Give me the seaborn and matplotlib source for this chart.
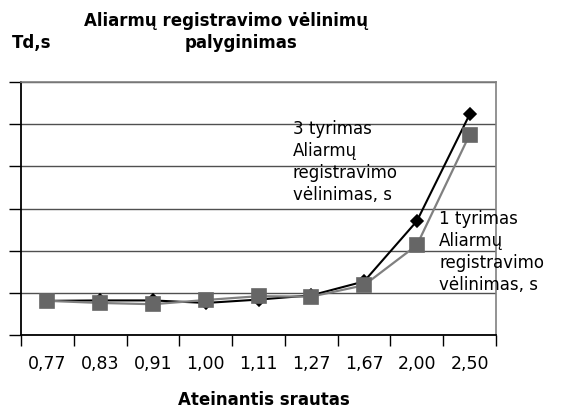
import numpy as np
import pandas as pd
import matplotlib
matplotlib.use("Agg")
import matplotlib.pyplot as plt
import seaborn as sns

# ------------------------------------------------------------------
# DATA
# ------------------------------------------------------------------
flow = ["0,77", "0,83", "0,91", "1,00", "1,11", "1,27", "1,67", "2,00", "2,50"]
delay_3 = [8.1, 8.2, 8.2, 7.6, 8.4, 9.4, 12.7, 27.0, 52.3]   # 3 tyrimas
delay_1 = [8.1, 7.6, 7.3, 8.3, 9.2, 9.1, 11.8, 21.3, 47.5]   # 1 tyrimas
y_ticks = [0, 10, 20, 30, 40, 50, 60]

label_3 = "3 tyrimas\nAliarmų\nregistravimo\nvėlinimas, s"
label_1 = "1 tyrimas\nAliarmų\nregistravimo\nvėlinimas, s"

df3 = pd.DataFrame({"srautas": flow, "Td": delay_3})
df1 = pd.DataFrame({"srautas": flow, "Td": delay_1})

# ------------------------------------------------------------------
# PLOT
# ------------------------------------------------------------------
sns.set_style("white")
plt.rcParams["font.family"] = ["DejaVu Sans"]
plt.rcParams["text.color"] = "black"
plt.rcParams["xtick.color"] = "black"
plt.rcParams["ytick.color"] = "black"

fig = plt.figure(figsize=(5.75, 4.10), dpi=100)
ax = fig.add_axes([21 / 575, 1 - 336 / 410, 475 / 575, 253 / 410])

sns.pointplot(data=df3, x="srautas", y="Td", order=flow, ax=ax,
              color="black", marker="D", markersize=6, linewidth=1.5,
              zorder=3)
sns.pointplot(data=df1, x="srautas", y="Td", order=flow, ax=ax,
              color="#808080", marker="s", markersize=9.5, linewidth=1.6,
              markerfacecolor="#666666", markeredgecolor="#666666",
              zorder=4)

ax.set_xlim(-0.5, len(flow) - 0.5)
ax.set_ylim(y_ticks[0], y_ticks[-1])
ax.set_yticks(y_ticks)
# the value labels of the y axis fall outside the cropped chart
ax.set_yticklabels([])
ax.yaxis.grid(True, color="#505050", lw=1)
ax.xaxis.grid(False)
ax.set_axisbelow(True)

# category boundary ticks on the x axis, labels in the middle
ax.set_xticks(np.arange(-0.5, len(flow)), minor=True)
ax.tick_params(axis="x", which="minor", length=8, width=1, color="black",
               direction="out", bottom=True)
ax.tick_params(axis="x", which="major", length=0, pad=14, labelsize=12.5,
               labelcolor="black")
ax.tick_params(axis="y", length=9, width=1, color="black", direction="out",
               left=True)

for side in ["left", "bottom"]:
    ax.spines[side].set_color("black")
    ax.spines[side].set_linewidth(1.3)
for side in ["top", "right"]:
    ax.spines[side].set_color("#808080")
    ax.spines[side].set_linewidth(1.2)

ax.set_xlabel("")
ax.set_ylabel("")

# series labels
fig.text(293 / 575, 1 - 120 / 410, label_3, fontsize=12,
         va="top", ha="left", linespacing=1.28)
fig.text(439 / 575, 1 - 210 / 410, label_1, fontsize=12,
         va="top", ha="left", linespacing=1.28)

# titles
fig.text(226 / 575, 1 - 26 / 410, "Aliarmų registravimo vėlinimų",
         fontsize=12, fontweight="bold", va="baseline", ha="center")
fig.text(241 / 575, 1 - 48 / 410, "palyginimas",
         fontsize=12, fontweight="bold", va="baseline", ha="center")
fig.text(12 / 575, 1 - 48 / 410, "Td,s",
         fontsize=12, fontweight="bold", va="baseline", ha="left")
fig.text(264 / 575, 1 - 405 / 410, "Ateinantis srautas",
         fontsize=12, fontweight="bold", va="baseline", ha="center")

fig.savefig("out.png", dpi=100)
